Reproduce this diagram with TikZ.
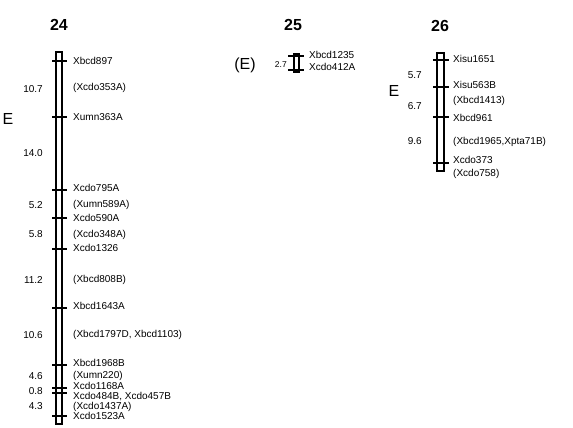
\documentclass[tikz,border=0pt]{standalone}
\usepackage{fontspec}
\setmainfont{Liberation Sans}
\usetikzlibrary{positioning}

\begin{document}
\begin{tikzpicture}[x=1pt, y=-1pt,
    chrom/.style = {draw, line width=2pt},
    tickmark/.style = {line width=2pt},
    locus/.style = {anchor=west, inner sep=0pt, text height=7pt, text depth=0pt,
                    font=\fontsize{10}{12}\selectfont},
    dist/.style = {anchor=east, inner sep=0pt, text height=7pt, text depth=0pt,
                   font=\fontsize{10}{12}\selectfont},
    chromname/.style = {font=\fontsize{16}{18}\selectfont\bfseries},
    group/.style = {font=\fontsize{16}{18}\selectfont}]
\useasboundingbox (0,0) rectangle (573,428);

% chromosome 24
\node[chromname] (t24) at (59,25) {24};
\node[group] (e24) at (8,119) {E};
\draw[chrom] (56,52) rectangle (62,424);
\foreach \y in {61,117,190,218,249,308,365,388,393,416}
  \draw[tickmark] (52,\y) -- (67,\y);
\foreach \y/\txt [count=\i] in {61/Xbcd897, 87/(Xcdo353A), 117/Xumn363A,
    188/Xcdo795A, 204/(Xumn589A), 218/Xcdo590A, 234/(Xcdo348A), 248/Xcdo1326,
    279/(Xbcd808B), 306/Xbcd1643A, 334/{(Xbcd1797D, Xbcd1103)}, 363/Xbcd1968B,
    375/(Xumn220), 386/Xcdo1168A, 396/{Xcdo484B, Xcdo457B}, 406/(Xcdo1437A),
    416/Xcdo1523A}
  \node[locus] (m24-\i) at (73,\y) {\txt};
\foreach \y/\d [count=\i] in {89/10.7, 153/14.0, 205/5.2, 234/5.8, 280/11.2,
    335/10.6, 376/4.6, 391/0.8, 406/4.3}
  \node[dist] (d24-\i) at (43,\y) {\d};

% chromosome 25
\node[chromname] (t25) at (293,25) {25};
\node[group] (e25) at (245,65) {(E)};
\draw[chrom] (294,54) rectangle (299,72);
\foreach \y in {56,70}
  \draw[tickmark] (288,\y) -- (304,\y);
\node[locus] (m25-1) at (309,55) {Xbcd1235};
\node[locus] (m25-2) at (309,67) {Xcdo412A};
\node[dist, font=\fontsize{8.5}{10}\selectfont] (d25-1) at (287,64) {2.7};

% chromosome 26
\node[chromname] (t26) at (440,26) {26};
\node[group] (e26) at (394,91) {E};
\draw[chrom] (437,53) rectangle (444,171);
\foreach \y in {60,87,117,163}
  \draw[tickmark] (433,\y) -- (449,\y);
\foreach \y/\txt [count=\i] in {59/Xisu1651, 85/Xisu563B, 100/(Xbcd1413),
    118/Xbcd961, 141/{(Xbcd1965,Xpta71B)}, 160/Xcdo373, 173/(Xcdo758)}
  \node[locus] (m26-\i) at (453,\y) {\txt};
\foreach \y/\d [count=\i] in {75/5.7, 106/6.7, 141/9.6}
  \node[dist] (d26-\i) at (422,\y) {\d};
\end{tikzpicture}
\end{document}
